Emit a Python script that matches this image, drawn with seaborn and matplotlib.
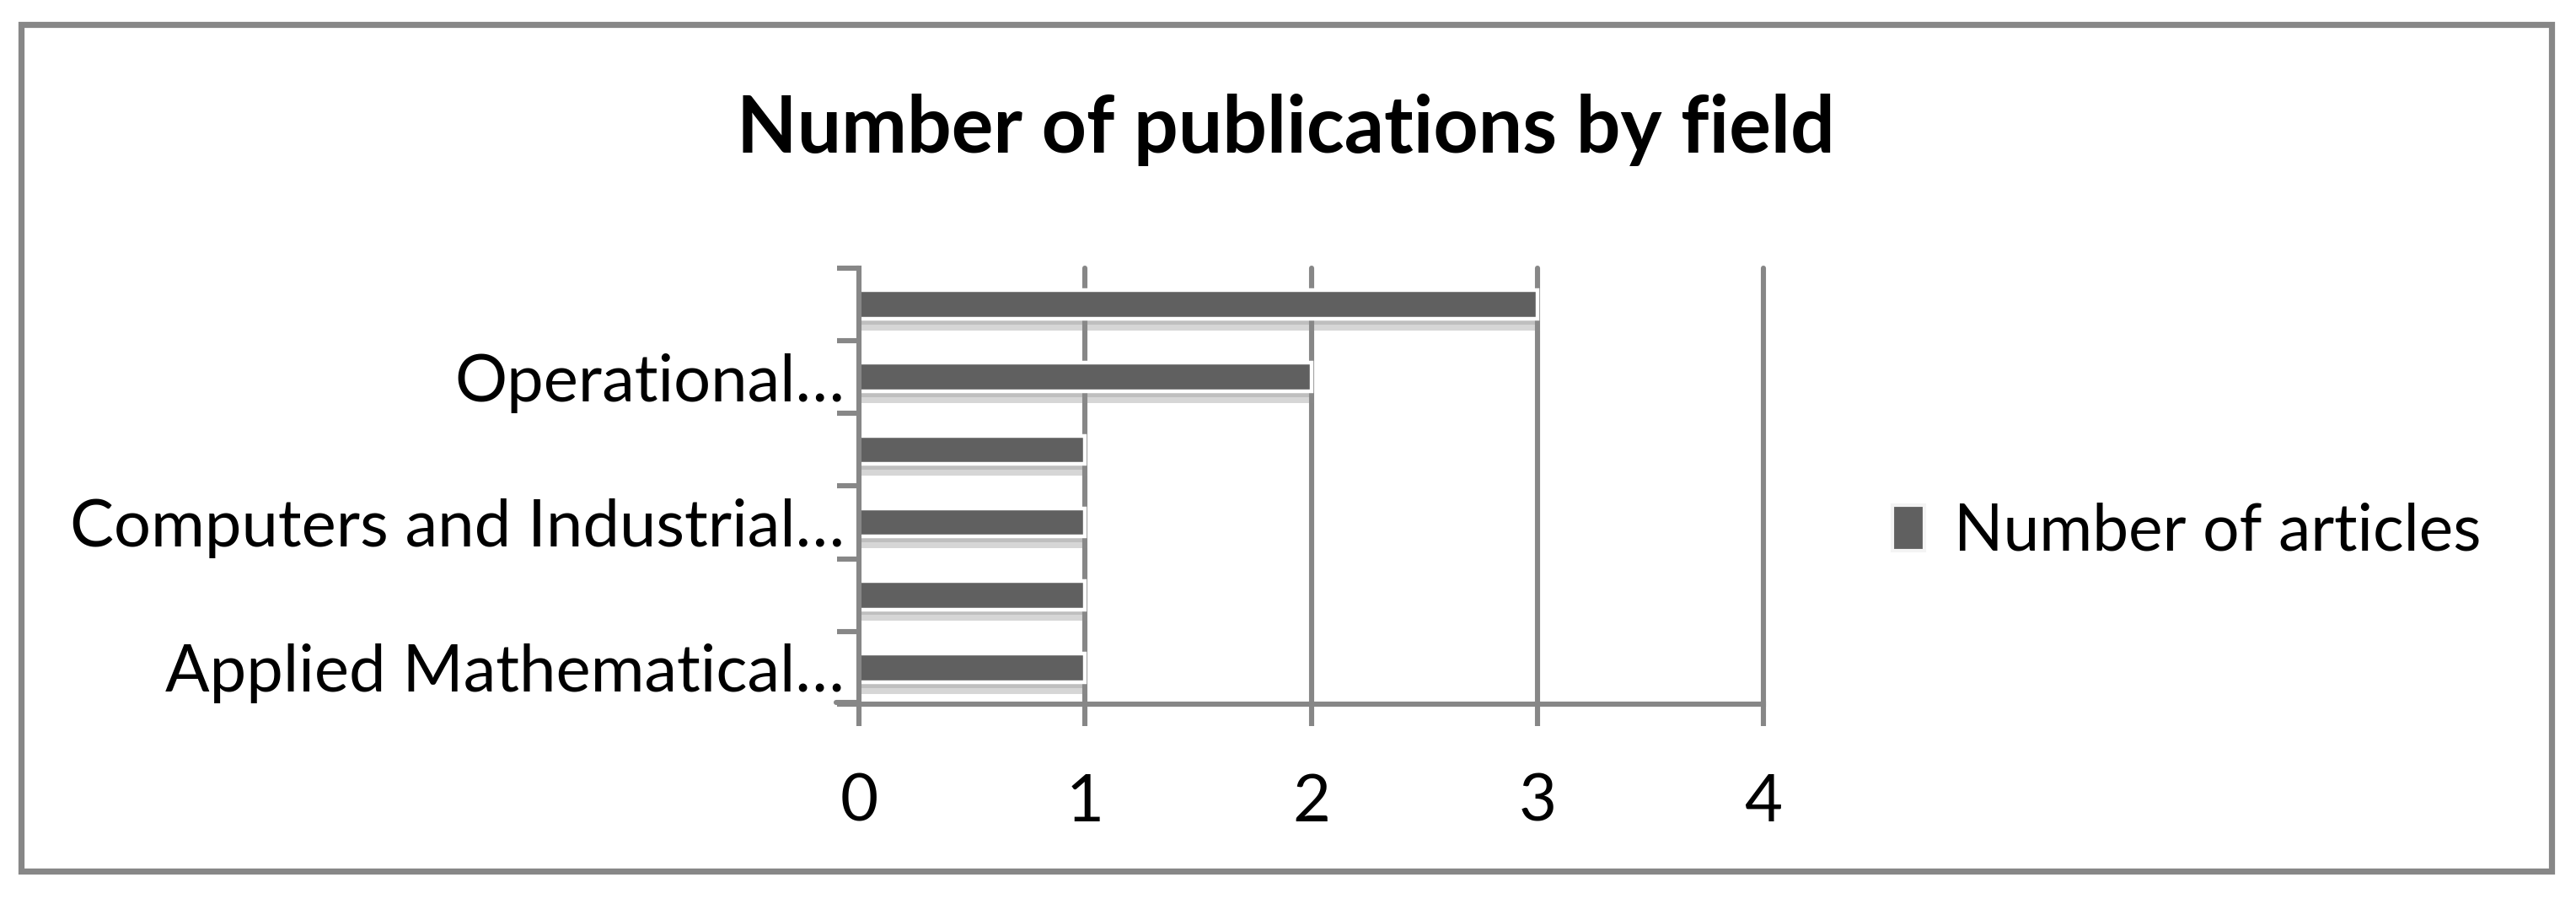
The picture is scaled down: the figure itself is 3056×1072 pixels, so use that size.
import matplotlib
matplotlib.use("Agg")
import matplotlib.pyplot as plt
import matplotlib.patheffects as pe
from matplotlib.patches import Rectangle
from matplotlib.lines import Line2D
import seaborn as sns
import pandas as pd

# ---- data (top to bottom as drawn) ----
categories = ["(unlabelled 3)", "Operational…", "(unlabelled 2)",
              "Computers and Industrial…", "(unlabelled 1)", "Applied Mathematical…"]
visible_labels = ["", "Operational…", "", "Computers and Industrial…", "", "Applied Mathematical…"]
values = [3, 2, 1, 1, 1, 1]
series_name = "Number of articles"
title = "Number of publications by field"
x_ticks = [0, 1, 2, 3, 4]

sns.set_theme(style="white")
plt.rcParams["font.family"] = ["Lato", "DejaVu Sans"]
plt.rcParams["text.color"] = "black"
plt.rcParams["xtick.color"] = "black"
plt.rcParams["ytick.color"] = "black"

GRAY = "#878787"
BAR = "#606060"
DPI = 200
fig = plt.figure(figsize=(3056 / DPI, 1072 / DPI), dpi=DPI)
ax = fig.add_axes([0.3334, 0.2211, 0.6846 - 0.3334, 0.7034 - 0.2211])

df = pd.DataFrame({"field": categories, "count": values, "series": series_name})
sns.barplot(data=df, y="field", x="count", order=categories, color=BAR,
            width=0.39, edgecolor="white", linewidth=1.6, ax=ax, saturation=1)

for p in ax.patches:
    p.set_path_effects([pe.SimplePatchShadow(offset=(1.0, -5), shadow_rgbFace="#8a8a8a", alpha=0.35),
                        pe.SimplePatchShadow(offset=(1.0, -2.5), shadow_rgbFace="#8a8a8a", alpha=0.3),
                        pe.Normal()])
    p.set_zorder(3)

ax.set_xlim(0, 4)
ax.set_ylim(len(categories) - 0.5, -0.5)
ax.set_xticks(x_ticks)
ax.set_xticklabels([str(t) for t in x_ticks], fontsize=28)
ax.set_yticks(range(len(categories)))
ax.set_yticklabels(visible_labels, fontsize=28)
ax.set_yticks([i - 0.5 for i in range(len(categories) + 1)], minor=True)
ax.tick_params(axis="y", which="major", length=0, pad=6, labelcolor="black")
ax.tick_params(axis="y", which="minor", length=9.4, width=2.2, color=GRAY, left=True)
ax.tick_params(axis="x", which="major", length=9.4, width=2.2, color=GRAY, bottom=True, pad=20,
               labelcolor="black")
ax.set_xlabel("")
ax.set_ylabel("")

ax.grid(False)
for x in x_ticks[1:]:
    ax.axvline(x, color=GRAY, linewidth=2.2, zorder=1, clip_on=False)

for s in ["top", "right"]:
    ax.spines[s].set_visible(False)
for s in ["left", "bottom"]:
    ax.spines[s].set_color(GRAY)
    ax.spines[s].set_linewidth(2.2)
    ax.spines[s].set_zorder(4)

# x-axis line continues left to the end of the category tick marks
ext = Line2D([992 / 3056, 0.3334], [1 - 833 / 1072] * 2, transform=fig.transFigure,
             color=GRAY, linewidth=2.2)
fig.lines.append(ext)

fig.text(0.4993, 0.856, title, ha="center", va="center", fontsize=33.5, fontweight="bold")

handle = Rectangle((0, 0), 1, 1, facecolor=BAR, edgecolor="#f4f4f4", linewidth=1.5)
leg = fig.legend([handle], [series_name], loc="center left", bbox_to_anchor=(0.7245, 0.411),
                 frameon=False, fontsize=27.6, handlelength=0.5, handleheight=0.7,
                 handletextpad=0.45, borderaxespad=0)

border = Rectangle((25 / 3056, 1 - 1033 / 1072), (3027 - 25) / 3056, (1033 - 29) / 1072,
                   transform=fig.transFigure, fill=False, edgecolor=GRAY, linewidth=2.6)
fig.patches.append(border)

fig.savefig("out.png", dpi=DPI, facecolor="white")
